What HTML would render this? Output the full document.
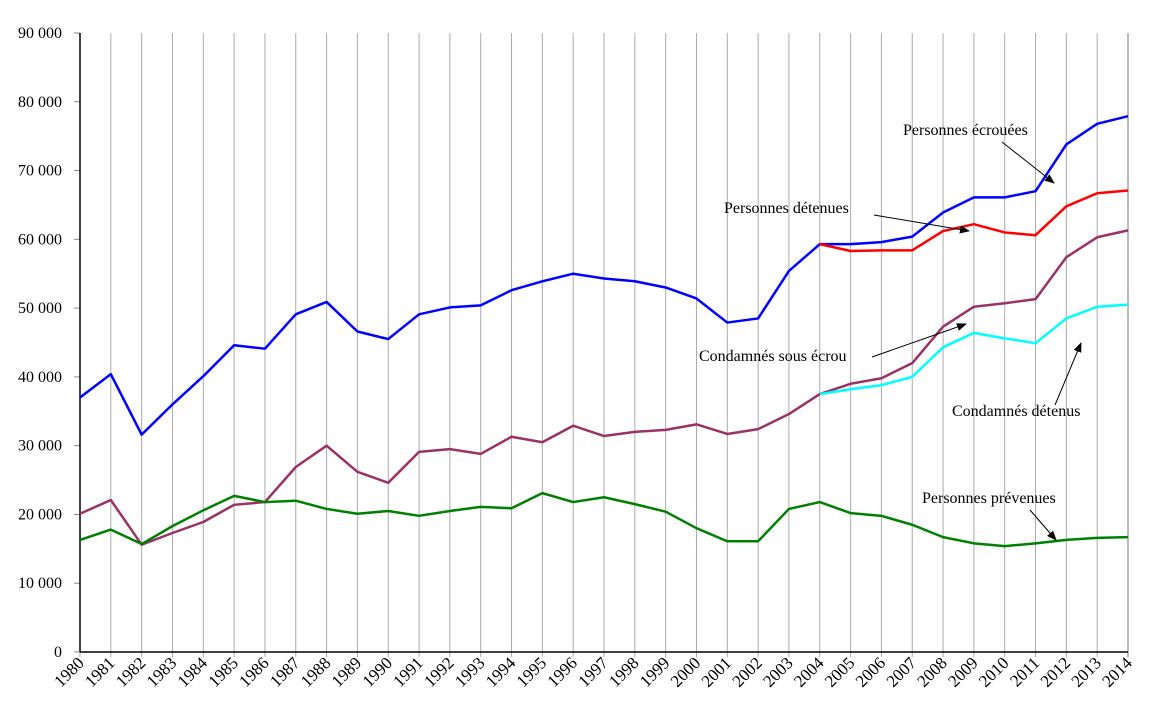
<!DOCTYPE html>
<html><head><meta charset="utf-8"><style>
body{margin:0;background:#fff}
svg text{font-family:"Liberation Serif",serif;font-size:16px;fill:#000}
svg text.xl{font-size:17px}
</style></head><body>
<svg id="c" width="1156" height="713">
<defs><marker id="ah" markerWidth="10" markerHeight="8" refX="9" refY="4" orient="auto" markerUnits="userSpaceOnUse"><path d="M0,0L10,4L0,8z" fill="#000"/></marker></defs>
<g id="grid"></g><g id="axes"></g><g id="series"></g><g id="ann"></g>
</svg>
<script>
const years=[1980,1981,1982,1983,1984,1985,1986,1987,1988,1989,1990,1991,1992,1993,1994,1995,1996,1997,1998,1999,2000,2001,2002,2003,2004,2005,2006,2007,2008,2009,2010,2011,2012,2013,2014];
const yTicks=[0,10000,20000,30000,40000,50000,60000,70000,80000,90000];
const ecrouees=[37000,40400,31600,36000,40100,44600,44100,49100,50900,46600,45500,49100,50100,50400,52600,53900,55000,54300,53900,53000,51400,47900,48500,55400,59300,59300,59600,60400,63900,66100,66100,67000,73800,76800,77900];
const detenues=[59300,58300,58400,58400,61200,62200,61000,60600,64800,66700,67100];
const condEcrou=[20100,22100,15600,17300,18900,21400,21800,26900,30000,26200,24600,29100,29500,28800,31300,30500,32900,31400,32000,32300,33100,31700,32400,34600,37500,39000,39800,42000,47300,50200,50700,51300,57400,60300,61300];
const condDetenus=[37500,38200,38800,40000,44300,46400,45600,44900,48500,50200,50500];
const prevenues=[16300,17800,15700,18300,20600,22700,21800,22000,20800,20100,20500,19800,20500,21100,20900,23100,21800,22500,21500,20400,18000,16100,16100,20800,21800,20200,19800,18500,16700,15800,15400,15800,16300,16600,16700];
const NS='http://www.w3.org/2000/svg';
const X0=80,X1=1128,Y0=652,Y1=33;
const xs=i=>X0+(X1-X0)*i/(years.length-1);
const ys=v=>Y0-(Y0-Y1)*v/90000;
function mk(tag,attrs,parent){const e=document.createElementNS(NS,tag);for(const k in attrs)e.setAttribute(k,attrs[k]);document.getElementById(parent).appendChild(e);return e;}
years.forEach((yr,i)=>{
  const g=mk('line',{x1:xs(i),x2:xs(i),y1:Y1,y2:Y0+5,stroke:i==years.length-1?'#777':'#aaa','stroke-width':1},'grid');
  
  
  const t=mk('text',{class:'xl',x:xs(i)+5,y:Y0+12,'text-anchor':'end',transform:`rotate(-45 ${xs(i)+5} ${Y0+12})`},'axes');
  t.textContent=yr;
  
  
});
yTicks.forEach(v=>{
  const t=mk('text',{x:62,y:ys(v)+5,'text-anchor':'end'},'axes');
  t.textContent=v===0?'0':v.toLocaleString('fr-FR').replace(/\s/g,' ');
  
  
  const l=mk('line',{x1:74,x2:X0,y1:ys(v),y2:ys(v),stroke:'#888'},'axes');
  
  
});
const ya=mk('line',{x1:X0,x2:X0,y1:Y1,y2:Y0,stroke:'#000','stroke-width':1.5},'axes');


const xa=mk('line',{x1:X0,x2:X1,y1:Y0,y2:Y0,stroke:'#000','stroke-width':1.5},'axes');


function line(vals,off,color,name){
  const p=mk('polyline',{points:vals.map((v,i)=>xs(i+off)+','+ys(v)).join(' '),fill:'none',stroke:color,'stroke-width':2.5,'stroke-linejoin':'round'},'series');
  
  
}
line(ecrouees,0,'#0000ff','line-personnes-ecrouees');
line(condEcrou,0,'#993366','line-condamnes-sous-ecrou');
line(prevenues,0,'#008000','line-personnes-prevenues');
line(detenues,24,'#ff0000','line-personnes-detenues');
line(condDetenus,24,'#00ffff','line-condamnes-detenus');
const anns=[
 ['Personnes écrouées',903,135,1002,142,1054,183,'annotation-personnes-ecrouees'],
 ['Personnes détenues',724,213,874,215,969,231,'annotation-personnes-detenues'],
 ['Condamnés sous écrou',699,361,872,357,966,324,'annotation-condamnes-sous-ecrou'],
 ['Condamnés détenus',952,416,1055,405,1081,343,'annotation-condamnes-detenus'],
 ['Personnes prévenues',922,503,1030,510,1056,540,'annotation-personnes-prevenues']];
anns.forEach(a=>{
  const t=mk('text',{x:a[1],y:a[2]},'ann');
  t.textContent=a[0];
  
  
  const l=mk('line',{x1:a[3],y1:a[4],x2:a[5],y2:a[6],stroke:'#000','stroke-width':1,'marker-end':'url(#ah)'},'ann');
  
  
});
</script>
</body></html>
